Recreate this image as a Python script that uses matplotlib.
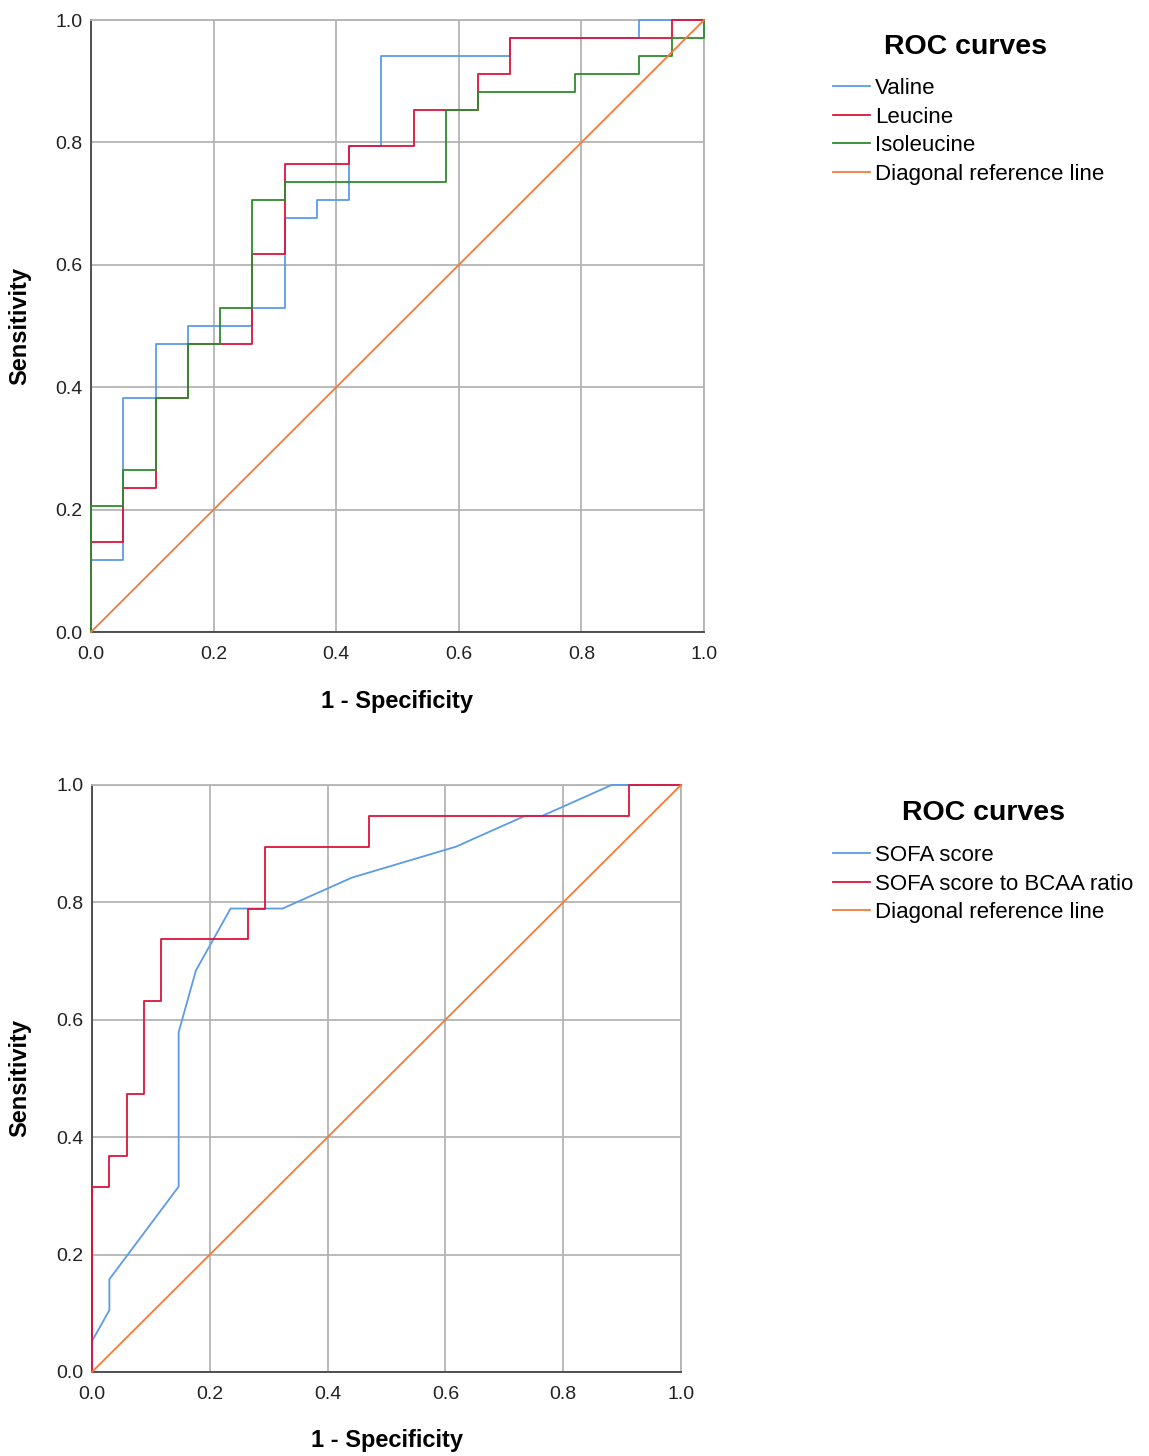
import matplotlib
matplotlib.use("Agg")
import matplotlib.pyplot as plt
import numpy as np

plt.rcParams['font.family'] = ['Liberation Sans', 'DejaVu Sans']

# top chart: counts of negatives (n=19) and positives (n=34) at each ROC vertex
n_neg_top = 19
n_pos_top = 34
valine_fp = [0, 0, 1, 1, 2, 2, 3, 3, 5, 5, 6, 6, 7, 7, 8, 8, 9, 9, 13, 13, 17, 17, 19]
valine_tp = [0, 4, 4, 13, 13, 16, 16, 17, 17, 18, 18, 23, 23, 24, 24, 27, 27, 32, 32, 33, 33, 34, 34]
leucine_fp = [0, 0, 1, 1, 2, 2, 3, 3, 5, 5, 6, 6, 8, 8, 10, 10, 12, 12, 13, 13, 18, 18, 19]
leucine_tp = [0, 5, 5, 8, 8, 13, 13, 16, 16, 21, 21, 26, 26, 27, 27, 29, 29, 31, 31, 33, 33, 34, 34]
isoleucine_fp = [0, 0, 1, 1, 2, 2, 3, 3, 4, 4, 5, 5, 6, 6, 11, 11, 12, 12, 15, 15, 17, 17, 18, 18, 19, 19]
isoleucine_tp = [0, 7, 7, 9, 9, 13, 13, 16, 16, 18, 18, 24, 24, 25, 25, 29, 29, 30, 30, 31, 31, 32, 32, 33, 33, 34]

# bottom chart: negatives n=34, positives n=19
n_neg_bot = 34
n_pos_bot = 19
sofa_fp = [0, 0, 1, 1, 5, 5, 6, 8, 11, 15, 21, 25, 26, 30, 34]
sofa_tp = [0, 1, 2, 3, 6, 11, 13, 15, 15, 16, 17, 18, 18, 19, 19]
ratio_fp = [0, 0, 1, 1, 2, 2, 3, 3, 4, 4, 9, 9, 10, 10, 16, 16, 31, 31, 34]
ratio_tp = [0, 6, 6, 7, 7, 9, 9, 12, 12, 14, 14, 15, 15, 17, 17, 18, 18, 19, 19]

ticks = [0.0, 0.2, 0.4, 0.6, 0.8, 1.0]

BLUE = '#5B9BE8'
RED = '#DC143C'
GREEN = '#2E8B2E'
ORANGE = '#F47A3A'
GRID = '#B4B4B4'


def style_axes(ax):
    ax.set_xlim(0, 1)
    ax.set_ylim(0, 1)
    ax.set_xticks(ticks)
    ax.set_yticks(ticks)
    ax.set_xticklabels([f'{t:.1f}' for t in ticks])
    ax.set_yticklabels([f'{t:.1f}' for t in ticks])
    ax.tick_params(length=0, labelsize=14, colors='#222222')
    ax.tick_params(axis='x', pad=10)
    ax.tick_params(axis='y', pad=6)
    ax.grid(True, color=GRID, linewidth=1.3)
    ax.set_axisbelow(True)
    for s in ['top', 'right']:
        ax.spines[s].set_color(GRID)
        ax.spines[s].set_linewidth(1.3)
    for s in ['left', 'bottom']:
        ax.spines[s].set_color('#444444')
        ax.spines[s].set_linewidth(1.3)


def roc_legend(ax, top_px, title_xy):
    ax.legend(loc='upper left', bbox_to_anchor=(833 / 1149, 1 - top_px / 1456),
              bbox_transform=fig.transFigure, frameon=False, fontsize=16,
              handlelength=1.65, handletextpad=0.25, labelspacing=0.34,
              borderpad=0, borderaxespad=0)
    fig.text(title_xy[0] / 1149, 1 - title_xy[1] / 1456, 'ROC curves',
             fontsize=20.5, fontweight='bold', ha='center', va='center')


fig = plt.figure(figsize=(11.49, 14.56), dpi=100)

# ---- top chart
ax1 = fig.add_axes([0.0792, 0.5659, 0.5335, 0.4203])
style_axes(ax1)
ax1.plot(np.array(valine_fp) / n_neg_top, np.array(valine_tp) / n_pos_top,
         color=BLUE, lw=1.3, label='Valine', clip_on=False, zorder=3)
ax1.plot(np.array(leucine_fp) / n_neg_top, np.array(leucine_tp) / n_pos_top,
         color=RED, lw=1.3, label='Leucine', clip_on=False, zorder=3)
ax1.plot(np.array(isoleucine_fp) / n_neg_top, np.array(isoleucine_tp) / n_pos_top,
         color=GREEN, lw=1.3, label='Isoleucine', clip_on=False, zorder=3)
ax1.plot([0, 1], [0, 1], color=ORANGE, lw=1.3, label='Diagonal reference line',
         clip_on=False, zorder=3)
ax1.set_xlabel('1 - Specificity', fontsize=17, fontweight='bold', va='center')
ax1.xaxis.set_label_coords(0.5, -0.1127)
ax1.set_ylabel('Sensitivity', fontsize=17, fontweight='bold', va='center', ha='center')
ax1.yaxis.set_label_coords(-0.1158, 0.5)
roc_legend(ax1, 78, (965, 47))

# ---- bottom chart
ax2 = fig.add_axes([0.0801, 0.0577, 0.5126, 0.4032])
style_axes(ax2)
ax2.plot(np.array(sofa_fp) / n_neg_bot, np.array(sofa_tp) / n_pos_bot,
         color=BLUE, lw=1.3, label='SOFA score', clip_on=False, zorder=3)
ax2.plot(np.array(ratio_fp) / n_neg_bot, np.array(ratio_tp) / n_pos_bot,
         color=RED, lw=1.3, label='SOFA score to BCAA ratio', clip_on=False, zorder=3)
ax2.plot([0, 1], [0, 1], color=ORANGE, lw=1.3, label='Diagonal reference line',
         clip_on=False, zorder=3)
ax2.set_xlabel('1 - Specificity', fontsize=17, fontweight='bold', va='center')
ax2.xaxis.set_label_coords(0.5, -0.1175)
ax2.set_ylabel('Sensitivity', fontsize=17, fontweight='bold', va='center', ha='center')
ax2.yaxis.set_label_coords(-0.1222, 0.5)
roc_legend(ax2, 845, (984, 813))

fig.savefig('out.png', dpi=100, facecolor='white')
